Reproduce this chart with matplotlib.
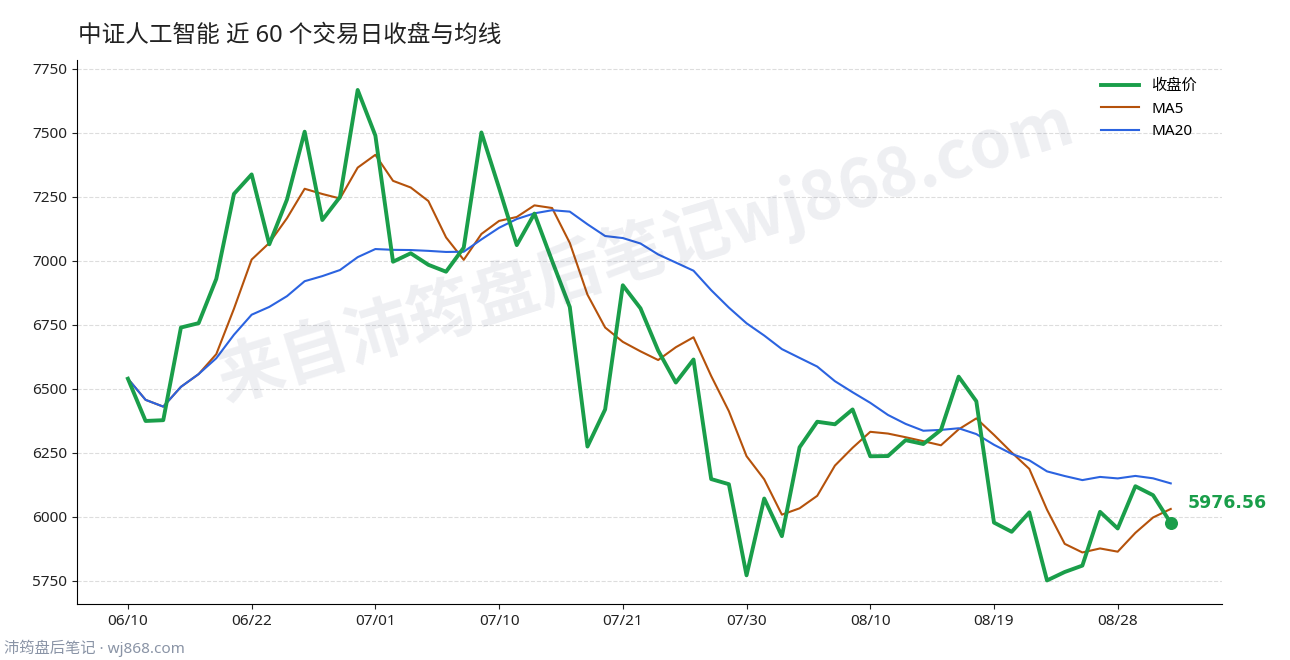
import matplotlib
matplotlib.use("Agg")
import matplotlib.pyplot as plt
import pandas as pd

plt.rcParams['font.family'] = ['Noto Sans', 'Noto Sans CJK SC', 'DejaVu Sans']

close = [6540, 6375, 6378, 6740, 6757, 6930, 7262, 7338, 7065, 7240,
         7505, 7160, 7250, 7668, 7490, 6997, 7030, 6985, 6958, 7052,
         7502, 7285, 7062, 7185, 7000, 6820, 6275, 6420, 6905, 6815,
         6650, 6525, 6615, 6148, 6128, 5772, 6072, 5925, 6272, 6372,
         6362, 6420, 6237, 6238, 6300, 6285, 6340, 6548, 6452, 5978,
         5942, 6018, 5752, 5785, 5810, 6020, 5955, 6120, 6085, 5976.56]
tick_pos = [0, 7, 14, 21, 28, 35, 42, 49, 56]
tick_labels = ['06/10', '06/22', '07/01', '07/10', '07/21', '07/30', '08/10', '08/19', '08/28']
yticks = [5750, 6000, 6250, 6500, 6750, 7000, 7250, 7500, 7750]

s = pd.Series(close)
ma5 = s.rolling(5, min_periods=1).mean()
ma20 = s.rolling(20, min_periods=1).mean()
x = list(range(len(close)))

fig = plt.figure(figsize=(12.9, 6.6), dpi=100)
ax = fig.add_axes([77/1290, 56/660, (1222-77)/1290, (604-60)/660])
ax.plot(x, close, color='#1a9e4a', lw=2.8, label='收盘价', zorder=4)
ax.plot(x, ma5, color='#b5520b', lw=1.5, label='MA5', zorder=3)
ax.plot(x, ma20, color='#2b63e0', lw=1.5, label='MA20', zorder=3)
ax.scatter([x[-1]], [close[-1]], s=70, color='#1a9e4a', zorder=5)
ax.annotate(f'{close[-1]:.2f}', (x[-1], close[-1]), xytext=(12, 8), textcoords='offset points',
            color='#1a9e4a', fontsize=12.5, fontweight='bold', va='bottom', family=['DejaVu Sans'])
ax.set_xlim(-2.88, 61.9)
ax.set_ylim(5660, 7785)
ax.set_yticks(yticks)
ax.set_xticks(tick_pos)
ax.set_xticklabels(tick_labels)
ax.tick_params(labelsize=11, colors='#222222')
ax.grid(axis='y', ls='--', color='#dddddd', lw=0.8)
for sp in ['top', 'right']:
    ax.spines[sp].set_visible(False)
ax.legend(loc='upper right', frameon=False, fontsize=11, bbox_to_anchor=(0.99, 0.99), handlelength=2.5)
fig.text(0.5, 0.62, '来自沛筠盘后笔记wj868.com', fontsize=48, color='#1e2a5a', alpha=0.08,
         rotation=17, ha='center', va='center', fontweight='bold', family=['Noto Sans CJK SC', 'DejaVu Sans'])
fig.text(78/1290, 1 - 36/660, '中证人工智能 近 60 个交易日收盘与均线', fontsize=17, color='#222222', va='center')
fig.text(4/1290, 1 - 648/660, '沛筠盘后笔记 · wj868.com', fontsize=11, color='#8a94a6', va='center')
fig.savefig('out.png', dpi=100)
